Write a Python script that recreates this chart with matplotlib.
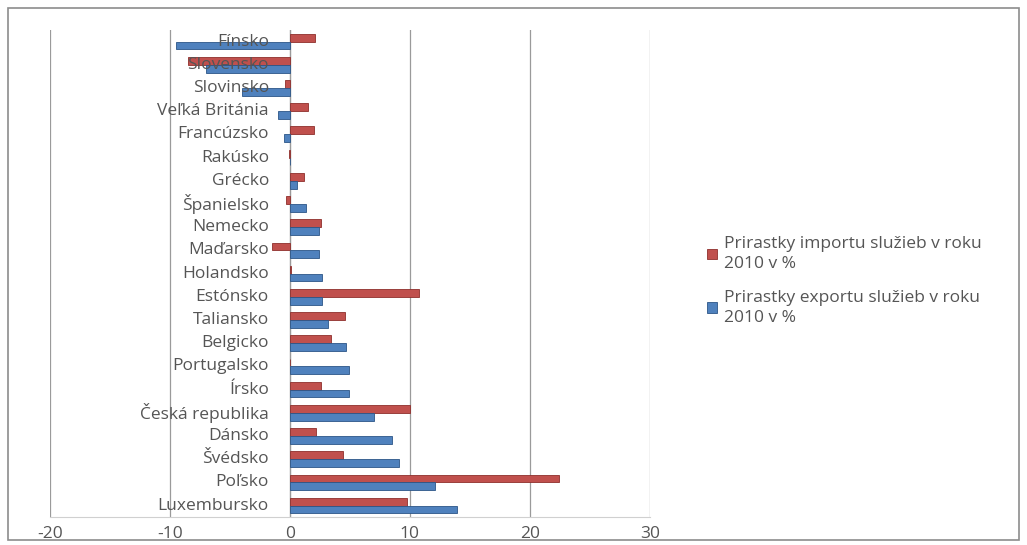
import matplotlib.pyplot as plt
import numpy as np
from matplotlib.patches import Rectangle

plt.rcParams['font.family'] = ['Open Sans', 'DejaVu Sans']

countries = ["Fínsko", "Slovensko", "Slovinsko", "Veľká Británia", "Francúzsko",
             "Rakúsko", "Grécko", "Španielsko", "Nemecko", "Maďarsko", "Holandsko",
             "Estónsko", "Taliansko", "Belgicko", "Portugalsko", "Írsko",
             "Česká republika", "Dánsko", "Švédsko", "Poľsko", "Luxembursko"]
import_growth = [2.1, -8.5, -0.4, 1.5, 2.0, -0.1, 1.2, -0.3, 2.6, -1.5, 0.1,
                 10.8, 4.6, 3.4, 0.0, 2.6, 10.0, 2.2, 4.4, 22.4, 9.8]
export_growth = [-9.5, -7.0, -4.0, -1.0, -0.5, 0.0, 0.6, 1.3, 2.4, 2.4, 2.7,
                 2.7, 3.2, 4.7, 4.9, 4.9, 7.0, 8.5, 9.1, 12.1, 13.9]
xticks = [-20, -10, 0, 10, 20, 30]

red = "#C0504D"
blue = "#4F81BD"
text_col = "#555555"

fig = plt.figure(figsize=(10.27, 5.45), dpi=100)
fig.patches.append(Rectangle((0.008, 0.01), 0.984, 0.975, transform=fig.transFigure,
                             fill=False, edgecolor="#8c8c8c", linewidth=1.2))
ax = fig.add_axes([0.0487, 0.051, 0.584, 0.894])

y = np.arange(len(countries))[::-1]
h = 0.34
ax.barh(y + h / 2, import_growth, height=h, color=red, edgecolor="#8e2f2c", linewidth=0.6,
        label="Prirastky importu služieb v roku\n2010 v %", zorder=3)
ax.barh(y - h / 2, export_growth, height=h, color=blue, edgecolor="#2c5587", linewidth=0.6,
        label="Prirastky exportu služieb v roku\n2010 v %", zorder=3)

ax.set_xlim(-20, 30)
ax.set_ylim(-0.5, len(countries) - 0.5)
ax.set_xticks(xticks)
ax.set_xticklabels([str(t) for t in xticks], fontsize=12.5, color=text_col)
ax.tick_params(axis='x', length=0, pad=6)
ax.set_yticks([])
for s in ["top", "right", "left"]:
    ax.spines[s].set_visible(False)
ax.spines["bottom"].set_color("#d0d0d0")
ax.grid(axis='x', color="#9a9a9a", linewidth=0.9, zorder=0)
ax.axvline(0, color="#b0b0b0", linewidth=0.9, zorder=1)

# category labels sit next to the zero axis
for yi, name in zip(y, countries):
    ax.text(-1.75, yi, name, ha='right', va='center', fontsize=12.5, color=text_col, zorder=4)

leg = ax.legend(loc='center left', bbox_to_anchor=(1.07, 0.485), frameon=False, fontsize=12.5,
                handlelength=0.55, handleheight=0.55, handletextpad=0.4, labelspacing=1.0,
                labelcolor=text_col)
for t in leg.get_texts():
    t.set_linespacing(1.35)

fig.savefig("out.png", dpi=100)
